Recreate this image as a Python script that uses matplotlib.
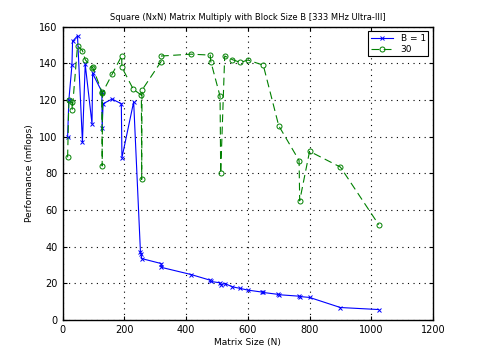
import matplotlib
matplotlib.use('Agg')
from matplotlib import pyplot as plt

# B = 1 series
n_b1 = [16, 20, 30, 32, 48, 64, 73, 95, 97, 127, 128, 131, 160, 190, 192, 230,
        252, 254, 256, 319, 320, 416, 478, 480, 510, 512, 525, 550, 576, 600,
        647, 650, 697, 700, 765, 768, 800, 900, 1024]
perf_b1 = [100, 120, 139, 152, 155, 97, 139.5, 107, 134.5, 124.5, 105, 118, 120.5,
           118, 88.5, 119, 37, 36, 33.5, 30.8, 28.7, 24.8, 21.7, 21, 20.3, 19.3,
           19.9, 18.1, 17.2, 16.3, 15.2, 15, 14, 13.8, 13, 12.8, 12.3, 6.8, 5.7]

# B = 30 series
n_b30 = [16, 20, 30, 31, 48, 64, 73, 96, 97, 127, 128, 129, 160, 191, 192, 229,
         255, 256, 257, 319, 320, 416, 478, 480, 510, 512, 525, 550, 576, 600,
         650, 700, 766, 768, 800, 900, 1024]
perf_b30 = [88.7, 120, 119, 114.5, 149.5, 147, 142, 137.6, 137.9, 124.5, 84, 124,
            134, 144, 137.8, 125.8, 122.7, 76.7, 125.4, 141, 144, 145, 144.5, 141,
            122, 80, 144, 142, 140.5, 141.8, 139, 106, 87, 65, 92, 83.4, 52]

fig = plt.figure(figsize=(4.8, 3.61), dpi=100)
ax = fig.add_axes([0.1306, 0.1136, 0.7715, 0.8125])

ax.plot(n_b1, perf_b1, '-x', color='blue', linewidth=0.8, markersize=3,
        markeredgewidth=0.7, label='B = 1')
ax.plot(n_b30, perf_b30, '--o', color='green', linewidth=0.8, markersize=3.6,
        markerfacecolor='none', markeredgewidth=0.7, dashes=(7, 4), label='30')

ax.set_xlim(0, 1200)
ax.set_ylim(0, 160)
ax.set_xticks(range(0, 1201, 200))
ax.set_yticks(range(0, 161, 20))
ax.grid(True, color='black', linestyle=(0, (1, 4)), linewidth=0.8)
ax.tick_params(direction='in', top=True, right=True, labelsize=7, length=3)
for s in ax.spines.values():
    s.set_linewidth(1)

ax.set_title('Square (NxN) Matrix Multiply with Block Size B [333 MHz Ultra-III]',
             fontsize=6, pad=5)
ax.set_xlabel('Matrix Size (N)', fontsize=6.5, labelpad=2)
ax.set_ylabel('Performance (mflops)', fontsize=6.5, labelpad=4)

leg = ax.legend(loc='upper right', fontsize=6.5, fancybox=False, framealpha=1,
                edgecolor='black', borderaxespad=0.5, handlelength=2.5,
                borderpad=0.3, labelspacing=0.2)
leg.get_frame().set_linewidth(0.8)

fig.savefig('out.png', dpi=100)
